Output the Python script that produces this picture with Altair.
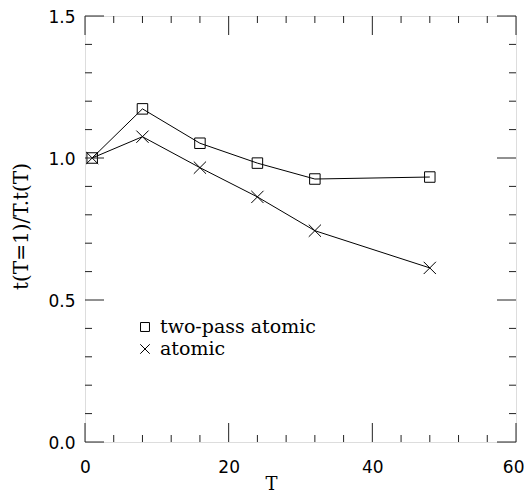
import altair as alt
import pandas as pd

# Data
T = [1, 8, 16, 24, 32, 48]
two_pass = [1.0, 1.173, 1.052, 0.982, 0.926, 0.933]
atomic = [1.0, 1.075, 0.966, 0.863, 0.744, 0.613]

x_major = [0, 20, 40, 60]
x_minor = [4, 8, 12, 16, 24, 28, 32, 36, 44, 48, 52, 56]
y_major = [0.0, 0.5, 1.0, 1.5]
y_minor = [0.1, 0.2, 0.3, 0.4, 0.6, 0.7, 0.8, 0.9, 1.1, 1.2, 1.3, 1.4]

legend_labels = ["two-pass atomic", "atomic"]

W, H = 431, 426

df_sq = pd.DataFrame({"T": T, "v": two_pass})
df_x = pd.DataFrame({"T": T, "v": atomic})

xs = alt.Scale(domain=[0, 60], nice=False, zero=False)
ys = alt.Scale(domain=[0, 1.5], nice=False, zero=False)

x_axis = alt.Axis(
    values=x_major, format="d", ticks=False, domain=False, grid=False,
    labelFont="DejaVu Sans", labelFontSize=17, labelColor="#000", labelPadding=17,
    labelFlush=False,
    labelAlign={"condition": {"test": "datum.value == 60", "value": "right"}, "value": "center"},
    labelOffset={"condition": {"test": "datum.value == 60", "value": 8}, "value": 0},
    title="T", titleFont="DejaVu Serif", titleFontWeight="normal", titleFontSize=18,
    titleColor="#000", titleX=186, titleY=42, titleAlign="center", titleBaseline="middle")
y_axis = alt.Axis(
    values=y_major, format=".1f", ticks=False, domain=False, grid=False,
    labelFont="DejaVu Sans", labelFontSize=17, labelColor="#000", labelPadding=10,
    labelFlush=False, labelOffset=1.5,
    title="t(T=1)/T.t(T)", titleFont="DejaVu Serif", titleFontWeight="normal",
    titleFontSize=20, titleColor="#000", titleX=-64, titleY=H / 2 - 3,
    titleAlign="center", titleBaseline="middle", titleAngle=270)

X = alt.X("T:Q", scale=xs, axis=x_axis)
Y = alt.Y("v:Q", scale=ys, axis=y_axis)

line_sq = alt.Chart(df_sq).mark_line(color="#000", strokeWidth=1).encode(x=X, y=Y)
line_x = alt.Chart(df_x).mark_line(color="#000", strokeWidth=1).encode(x=X, y=Y)

pts_sq = alt.Chart(df_sq).mark_point(shape="square", filled=False, color="#000",
                                     size=110, strokeWidth=1, opacity=1).encode(x=X, y=Y)
xpath = "M-1,-1L1,1M-1,1L1,-1"
pts_x = alt.Chart(df_x).mark_point(shape=xpath, filled=False, color="#000",
                                   size=150, strokeWidth=1, opacity=1).encode(x=X, y=Y)

tick_color = "#222"
dxM = pd.DataFrame({"T": x_major})
dxm = pd.DataFrame({"T": x_minor})
dyM = pd.DataFrame({"v": y_major})
dym = pd.DataFrame({"v": y_minor})

def xticks(d, length):
    bot = alt.Chart(d).mark_rule(color=tick_color, strokeWidth=1).encode(
        x=X, y=alt.value(H), y2=alt.value(H - length))
    top = alt.Chart(d).mark_rule(color=tick_color, strokeWidth=1).encode(
        x=X, y=alt.value(0), y2=alt.value(length))
    return [bot, top]

def yticks(d, length):
    left = alt.Chart(d).mark_rule(color=tick_color, strokeWidth=1).encode(
        y=Y, x=alt.value(0), x2=alt.value(length))
    right = alt.Chart(d).mark_rule(color=tick_color, strokeWidth=1).encode(
        y=Y, x=alt.value(W), x2=alt.value(W - length))
    return [left, right]

ticks = xticks(dxM, 19) + xticks(dxm, 7) + yticks(dyM, 19) + yticks(dym, 7)

# Legend drawn inside the plot
leg0 = pd.DataFrame({"label": [legend_labels[0]]})
leg1 = pd.DataFrame({"label": [legend_labels[1]]})
leg_sq = alt.Chart(leg0).mark_point(
    shape="square", filled=False, color="#000", size=80, strokeWidth=1, opacity=1
).encode(x=alt.value(60), y=alt.value(311))
leg_x = alt.Chart(leg1).mark_point(
    shape=xpath, filled=False, color="#000", size=90, strokeWidth=1, opacity=1
).encode(x=alt.value(60), y=alt.value(333))
txt_kw = dict(align="left", baseline="middle", font="DejaVu Serif", fontSize=19, color="#000")
leg_t0 = alt.Chart(leg0).mark_text(**txt_kw).encode(
    x=alt.value(75), y=alt.value(311), text="label:N")
leg_t1 = alt.Chart(leg1).mark_text(**txt_kw).encode(
    x=alt.value(75), y=alt.value(333), text="label:N")

chart = alt.layer(line_sq, line_x, pts_sq, pts_x, *ticks, leg_sq, leg_x, leg_t0, leg_t1).properties(
    width=W, height=H,
    autosize=alt.AutoSizeParams(type="none"),
    padding={"left": 77, "top": 8, "right": 8, "bottom": 50},
).configure_view(stroke="#666", strokeWidth=2).configure(background="white")

chart.save("out.html", embed_options={"renderer": "svg", "actions": False})
